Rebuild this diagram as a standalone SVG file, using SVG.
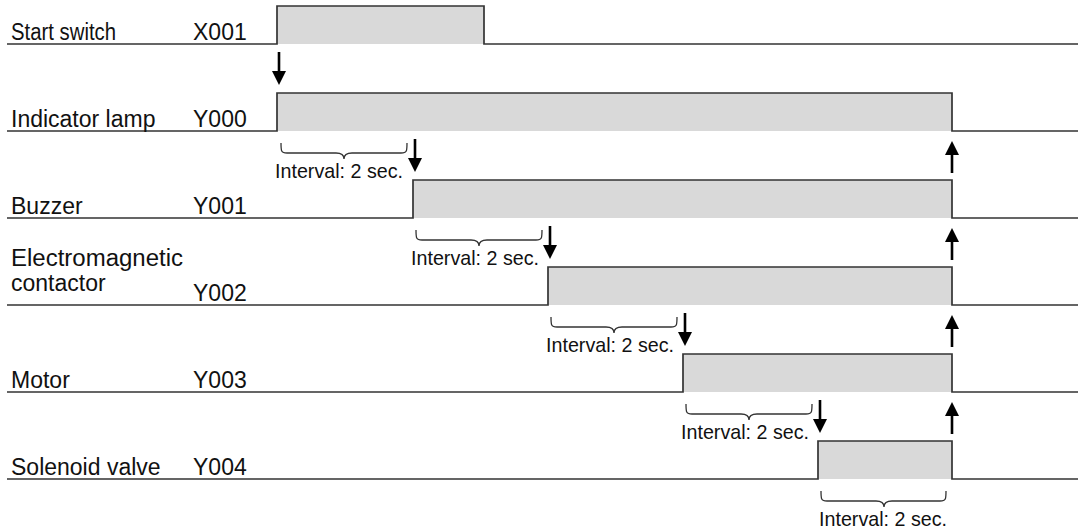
<svg xmlns="http://www.w3.org/2000/svg" width="1078" height="532" viewBox="0 0 1078 532">
<defs>
<style>
.lbl{font-family:"Liberation Sans",Arial,sans-serif;font-size:23px;fill:#111}
.iv{font-family:"Liberation Sans",Arial,sans-serif;font-size:21px;fill:#111;text-anchor:middle}
.on{fill:#d9d9d9;stroke:none}
.sig{fill:none;stroke:#333;stroke-width:1.7}
.br{fill:none;stroke:#333;stroke-width:1.3}
.arr{stroke:#000;stroke-width:2.6;fill:none;marker-end:url(#ah)}
</style>
<marker id="ah" markerUnits="userSpaceOnUse" markerWidth="14" markerHeight="14" viewBox="0 0 14 14" refX="0" refY="7" orient="auto">
<path d="M0,0 L14,7 L0,14 z" fill="#000"/>
</marker>
</defs>
<rect width="1078" height="532" fill="#fff"/>

<g id="x001">
<rect class="on" x="277" y="6" width="207" height="38"/>
<path class="sig" d="M7,44 H277 V6 H484 V44 H1078"/>
<text class="lbl" x="11" y="40" textLength="105" lengthAdjust="spacingAndGlyphs">Start switch</text>
<text class="lbl" x="193" y="40">X001</text>
</g>

<g id="y000">
<rect class="on" x="277" y="93" width="675" height="38"/>
<path class="sig" d="M7,131 H277 V93 H952 V131 H1078"/>
<text class="lbl" x="11" y="127">Indicator lamp</text>
<text class="lbl" x="193" y="127">Y000</text>
</g>

<g id="y001">
<rect class="on" x="413" y="180" width="539" height="38"/>
<path class="sig" d="M7,218 H413 V180 H952 V218 H1078"/>
<text class="lbl" x="11" y="214">Buzzer</text>
<text class="lbl" x="193" y="214">Y001</text>
</g>

<g id="y002">
<rect class="on" x="548" y="267" width="404" height="38"/>
<path class="sig" d="M7,305 H548 V267 H952 V305 H1078"/>
<text class="lbl" x="11" y="266" textLength="172" lengthAdjust="spacingAndGlyphs">Electromagnetic</text>
<text class="lbl" x="11" y="291">contactor</text>
<text class="lbl" x="193" y="301">Y002</text>
</g>

<g id="y003">
<rect class="on" x="683" y="354" width="269" height="38"/>
<path class="sig" d="M7,392 H683 V354 H952 V392 H1078"/>
<text class="lbl" x="11" y="388">Motor</text>
<text class="lbl" x="193" y="388">Y003</text>
</g>

<g id="y004">
<rect class="on" x="818" y="441" width="134" height="38"/>
<path class="sig" d="M7,479 H818 V441 H952 V479 H1078"/>
<text class="lbl" x="11" y="475">Solenoid valve</text>
<text class="lbl" x="193" y="475">Y004</text>
</g>

<g id="intervals">
<path class="br" d="M281,143 C281,151 281,153 287,153 H336 C341,153 344,155 344,159 C344,155 347,153 352,153 H401 C407,153 407,151 407,143"/>
<text class="iv" x="339" y="178" textLength="128" lengthAdjust="spacingAndGlyphs">Interval: 2 sec.</text>
<path class="br" d="M416,230 C416,238 416,240 422,240 H471 C476,240 479,242 479,246 C479,242 482,240 487,240 H536 C542,240 542,238 542,230"/>
<text class="iv" x="475" y="265" textLength="128" lengthAdjust="spacingAndGlyphs">Interval: 2 sec.</text>
<path class="br" d="M551,317 C551,325 551,327 557,327 H606 C611,327 614,329 614,333 C614,329 617,327 622,327 H671 C677,327 677,325 677,317"/>
<text class="iv" x="610" y="352" textLength="128" lengthAdjust="spacingAndGlyphs">Interval: 2 sec.</text>
<path class="br" d="M686,404 C686,412 686,414 692,414 H741 C746,414 749,416 749,420 C749,416 752,414 757,414 H806 C812,414 812,412 812,404"/>
<text class="iv" x="745" y="439" textLength="128" lengthAdjust="spacingAndGlyphs">Interval: 2 sec.</text>
<path class="br" d="M821,491 C821,499 821,501 827,501 H876 C881,501 884,503 884,507 C884,503 887,501 892,501 H940 C946,501 946,499 946,491"/>
<text class="iv" x="883" y="526" textLength="128" lengthAdjust="spacingAndGlyphs">Interval: 2 sec.</text>
</g>

<g id="connectors">
<line class="arr" x1="279" y1="52" x2="279" y2="71"/>
<line class="arr" x1="415" y1="139" x2="415" y2="158"/>
<line class="arr" x1="550" y1="226" x2="550" y2="245"/>
<line class="arr" x1="685" y1="313" x2="685" y2="332"/>
<line class="arr" x1="820" y1="400" x2="820" y2="419"/>
<line class="arr" x1="952" y1="173" x2="952" y2="155"/>
<line class="arr" x1="952" y1="260" x2="952" y2="242"/>
<line class="arr" x1="952" y1="347" x2="952" y2="329"/>
<line class="arr" x1="952" y1="434" x2="952" y2="416"/>
</g>
</svg>
